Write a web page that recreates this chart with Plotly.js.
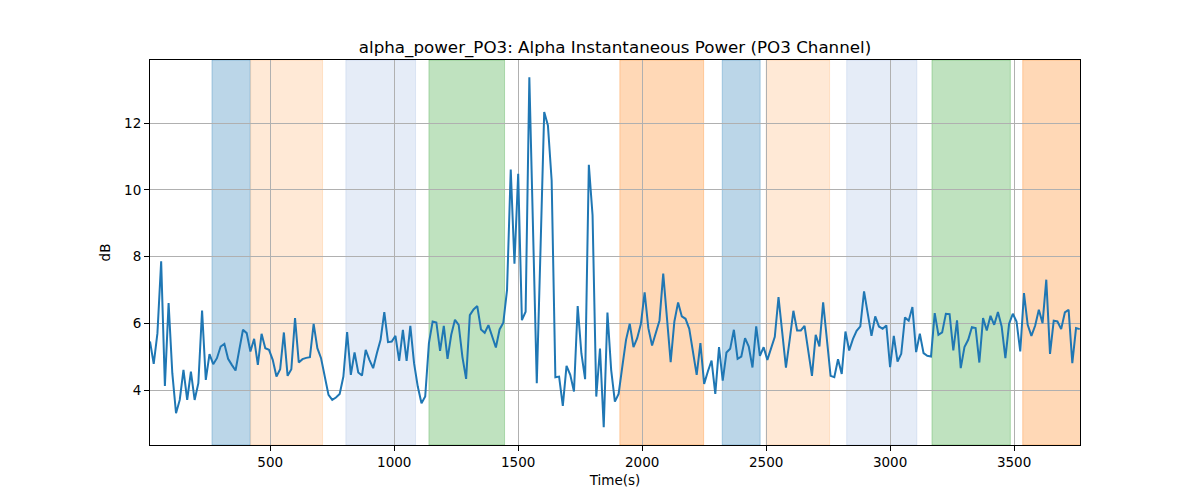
<!DOCTYPE html>
<html>
<head>
<meta charset="utf-8">
<script src="https://cdn.plot.ly/plotly-3.0.1.min.js"></script>
<style>
  body { margin: 0; background: #fff; }
  #plot { width: 1200px; height: 500px; }
</style>
</head>
<body>
<div id="plot"></div>
<script>
// sample times: one value every 15 s
var timeStep = 15;
var power = [
  5.46, 4.79, 5.71, 7.86, 4.13, 6.61, 4.51, 3.31, 3.71, 4.61,
  3.71, 4.56, 3.71, 4.21, 6.39, 4.31, 5.08, 4.78, 4.96, 5.31,
  5.39, 4.94, 4.76, 4.59, 5.21, 5.81, 5.71, 5.16, 5.54, 4.76,
  5.69, 5.26, 5.21, 4.91, 4.41, 4.63, 5.73, 4.43, 4.63, 6.16,
  4.83, 4.93, 4.97, 4.99, 5.99, 5.26, 4.96, 4.36, 3.86, 3.71,
  3.78, 3.89, 4.41, 5.74, 4.46, 5.13, 4.53, 4.44, 5.21, 4.91,
  4.66, 5.11, 5.51, 6.34, 5.44, 5.46, 5.63, 4.88, 5.81, 4.88,
  5.93, 4.81, 4.11, 3.61, 3.81, 5.41, 6.06, 6.03, 5.18, 5.93,
  4.94, 5.66, 6.11, 5.96, 5.00, 4.34, 6.25, 6.42, 6.52, 5.82,
  5.72, 5.95, 5.60, 5.28, 5.82, 6.02, 7.00, 10.61, 7.79, 10.48,
  6.10, 6.35, 13.37, 8.80, 4.21, 8.20, 12.33, 11.93, 10.28, 4.39,
  4.41, 3.53, 4.73, 4.46, 3.96, 6.52, 5.10, 4.33, 10.75, 9.24,
  3.81, 5.25, 2.89, 6.33, 4.61, 3.66, 3.89, 4.71, 5.51, 5.99,
  5.29, 5.56, 5.99, 6.93, 5.86, 5.34, 5.73, 6.09, 7.49, 6.06,
  4.84, 6.06, 6.63, 6.21, 6.14, 5.84, 5.21, 4.46, 5.41, 4.19,
  4.56, 4.89, 3.89, 5.29, 4.29, 5.13, 5.24, 5.81, 4.94, 5.01,
  5.56, 5.31, 4.68, 5.91, 5.03, 5.29, 4.91, 5.26, 5.60, 6.79,
  5.76, 4.68, 5.51, 6.38, 5.79, 5.79, 5.93, 5.16, 4.43, 5.66,
  5.31, 6.63, 5.56, 4.43, 4.39, 4.93, 4.49, 5.76, 5.19, 5.53,
  5.78, 5.91, 6.96, 6.31, 5.63, 6.21, 5.91, 5.84, 5.94, 4.69,
  5.63, 4.86, 5.09, 6.18, 6.08, 6.49, 5.14, 5.69, 5.11, 5.03,
  5.01, 6.31, 5.66, 5.73, 6.29, 6.28, 5.19, 6.09, 4.66, 5.29,
  5.51, 5.89, 5.86, 4.83, 6.16, 5.79, 6.23, 5.96, 6.34, 5.91,
  4.96, 5.99, 6.29, 6.06, 5.16, 6.91, 5.96, 5.63, 5.93, 6.41,
  6.01, 7.31, 5.09, 6.08, 6.06, 5.83, 6.33, 6.41, 4.81, 5.86,
  5.83
];
var times = power.map(function(v, i) { return (i + 1) * timeStep; });

// shaded event windows
var bandStart = [265, 421, 805, 1140, 1910, 2323, 2500, 2825, 3169, 3535];
var bandEnd   = [419, 711, 1086, 1445, 2248, 2476, 2756, 3108, 3485, 3800];
var bandColor = [
  'rgba(31,119,180,0.3)', 'rgba(255,127,14,0.17)', 'rgba(110,150,210,0.18)',
  'rgba(44,160,44,0.3)', 'rgba(255,127,14,0.3)', 'rgba(31,119,180,0.3)',
  'rgba(255,127,14,0.17)', 'rgba(110,150,210,0.18)', 'rgba(44,160,44,0.3)',
  'rgba(255,127,14,0.3)'
];

var shapes = bandStart.map(function(s, i) {
  return {
    type: 'rect', xref: 'x', yref: 'paper',
    x0: s, x1: bandEnd[i], y0: 0, y1: 1,
    fillcolor: bandColor[i], line: {color: bandColor[i], width: 1}, layer: 'below'
  };
});

var trace = {
  x: times, y: power, mode: 'lines', type: 'scatter',
  line: {color: '#1f77b4', width: 2}, hoverinfo: 'skip'
};

var axisCommon = {
  showgrid: true, gridcolor: '#b0b0b0', gridwidth: 1,
  zeroline: false, showline: true, linecolor: '#000', linewidth: 1,
  mirror: true, ticks: 'outside', ticklen: 5, tickwidth: 1, tickcolor: '#000',
  tickfont: {size: 13.5, color: '#000'}
};

var layout = {
  width: 1200, height: 500,
  margin: {l: 150, r: 120, t: 60, b: 55},
  paper_bgcolor: '#fff', plot_bgcolor: '#fff',
  font: {family: 'DejaVu Sans', color: '#000'},
  showlegend: false,
  title: {
    text: 'alpha_power_PO3: Alpha Instantaneous Power (PO3 Channel)',
    font: {size: 16.7, color: '#000'}, x: 0.5, xref: 'paper', y: 0.905, yanchor: 'middle'
  },
  xaxis: Object.assign({}, axisCommon, {
    range: [15, 3766], tickvals: [500, 1000, 1500, 2000, 2500, 3000, 3500],
    title: {text: 'Time(s)', font: {size: 13.5}, standoff: 6}
  }),
  yaxis: Object.assign({}, axisCommon, {
    range: [2.36, 13.89], tickvals: [4, 6, 8, 10, 12],
    title: {text: 'dB', font: {size: 13.5}, standoff: 10}
  }),
  shapes: shapes
};

Plotly.newPlot('plot', [trace], layout, {staticPlot: true});
</script>
</body>
</html>
